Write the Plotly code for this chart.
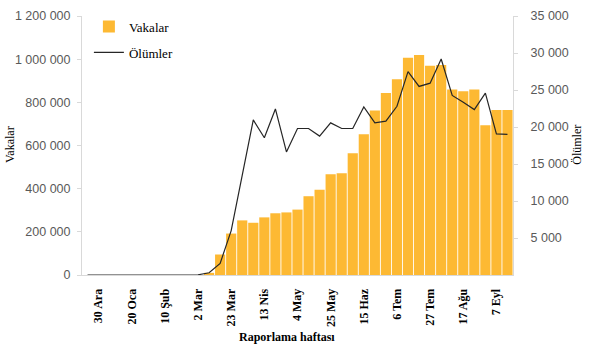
import plotly.graph_objects as go

weeks = ["23 Ara", "30 Ara", "6 Oca", "13 Oca", "20 Oca", "27 Oca", "3 Şub", "10 Şub",
         "17 Şub", "24 Şub", "2 Mar", "9 Mar", "16 Mar", "23 Mar", "30 Mar", "6 Nis",
         "13 Nis", "20 Nis", "27 Nis", "4 May", "11 May", "18 May", "25 May", "1 Haz",
         "8 Haz", "15 Haz", "22 Haz", "29 Haz", "6 Tem", "13 Tem", "20 Tem", "27 Tem",
         "3 Ağu", "10 Ağu", "17 Ağu", "24 Ağu", "31 Ağu", "7 Eyl", "14 Eyl"]

cases = [0, 0, 0, 0, 0, 0, 0, 0, 0, 0, 0, 10000, 95000, 192000, 253000, 242000,
         267000, 286000, 290000, 303000, 365000, 395000, 467000, 472000, 564000,
         652000, 762000, 843000, 907000, 1007000, 1019000, 970000, 973000, 860000,
         851000, 860000, 694000, 765000, 765000]

deaths = [0, 0, 0, 0, 0, 0, 0, 0, 0, 0, 30, 300, 1570, 6000, 13500, 20960,
          18550, 22440, 16630, 19800, 19800, 18770, 20560, 19800, 19800, 22700,
          20560, 20790, 22800, 27490, 25480, 25920, 29190, 24270, 23330, 22350,
          24580, 19080, 19000]

tick_labels = ["30 Ara", "20 Oca", "10 Şub", "2 Mar", "23 Mar", "13 Nis", "4 May",
               "25 May", "15 Haz", "6 Tem", "27 Tem", "17 Ağu", "7 Eyl"]

left_ticks = [0, 200000, 400000, 600000, 800000, 1000000, 1200000]
right_ticks = [5000, 10000, 15000, 20000, 25000, 30000, 35000]

def fmt(v):
    return f"{v:,}".replace(",", " ")

serif = "Liberation Serif"
sans = "Liberation Sans"
axis_gray = "#d9d9d9"
label_gray = "#595959"

fig = go.Figure()
fig.add_trace(go.Bar(x=weeks, y=cases, name="Vakalar", marker_color="#FDB933",
                     marker_line_width=0, legendgroup="a"))
fig.add_trace(go.Scatter(x=weeks, y=deaths, name="Ölümler", mode="lines",
                         line=dict(color="#262626", width=1.2), yaxis="y2",
                         legendgroup="b"))

fig.update_layout(
    width=605, height=349,
    margin=dict(l=82, r=92, t=14, b=74),
    paper_bgcolor="white", plot_bgcolor="white",
    bargap=0.08,
    showlegend=True,
    legend=dict(x=0.016, y=1.017, xanchor="left", yanchor="top",
                font=dict(family=serif, size=13, color="black"),
                bgcolor="rgba(0,0,0,0)", tracegroupgap=6, itemwidth=30),
    xaxis=dict(type="category", tickmode="array", tickvals=tick_labels,
               ticktext=tick_labels, tickangle=-90, automargin=False,
               tickfont=dict(family=serif, size=12, color="black", weight="bold"),
               showline=True, linecolor=axis_gray, linewidth=1, ticks="",
               ticklabelstandoff=8, showgrid=False, zeroline=False),
    yaxis=dict(range=[0, 1200000], tickmode="array", tickvals=left_ticks,
               ticktext=[fmt(v) for v in left_ticks], automargin=False,
               tickfont=dict(family=sans, size=12.5, color=label_gray),
               showline=True, linecolor=axis_gray, linewidth=1,
               ticks="outside", ticklen=4, tickcolor=axis_gray,
               ticklabelstandoff=4, showgrid=False, zeroline=False),
    yaxis2=dict(range=[0, 35000], overlaying="y", side="right", tickmode="array",
                tickvals=right_ticks, ticktext=[fmt(v) for v in right_ticks],
                automargin=False,
                tickfont=dict(family=sans, size=12.5, color=label_gray),
                showline=True, linecolor=axis_gray, linewidth=1,
                ticks="outside", ticklen=4, tickcolor=axis_gray,
                ticklabelstandoff=10, showgrid=False, zeroline=False),
    annotations=[
        dict(text="Raporlama haftası", xref="paper", yref="paper", x=0.476, y=-0.241,
             showarrow=False, xanchor="center", yanchor="middle",
             font=dict(family=serif, size=12, color="black", weight="bold")),
        dict(text="Vakalar", xref="paper", yref="paper", x=-0.167, y=0.502,
             showarrow=False, textangle=-90, xanchor="center", yanchor="middle",
             font=dict(family=serif, size=12, color="black")),
        dict(text="Ölümler", xref="paper", yref="paper", x=1.148, y=0.502,
             showarrow=False, textangle=-90, xanchor="center", yanchor="middle",
             font=dict(family=serif, size=12, color="black")),
    ],
)

fig.write_html("out.html")
